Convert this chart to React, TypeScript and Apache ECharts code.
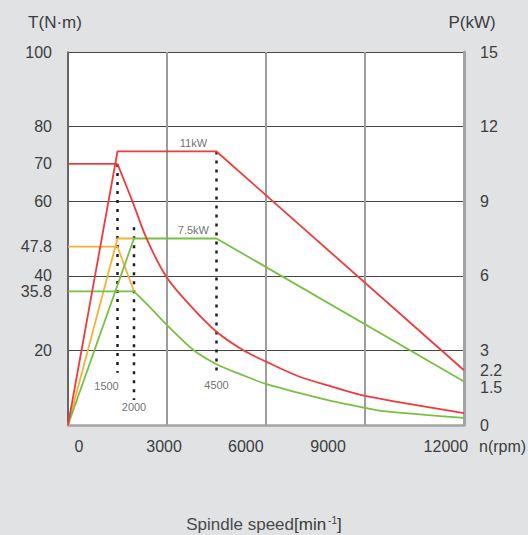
import React, { useEffect, useRef } from "react";
import * as echarts from "echarts";

// ---- data ----
const redTorque = [
  [0, 70], [1500, 70], [1950, 60], [2400, 49.6], [3000, 39.5], [3750, 31.6],
  [4500, 25], [5300, 20.1], [6000, 17], [7000, 13], [8000, 10.3], [9000, 7.8], [12000, 3.2],
];
const greenTorque = [
  [0, 35.8], [2000, 35.8], [2500, 31.4], [3000, 26.8], [3800, 20.1], [4500, 16.3],
  [5200, 13.7], [6000, 11], [7000, 8.6], [8000, 6.4], [9000, 4.6], [9500, 3.8], [12000, 1.9],
];
const orangeTorque = [[0, 47.8], [1500, 47.8], [2000, 35.8]];
const redPower = [[0, 0], [1500, 11], [4500, 11], [12000, 2.2]];
const greenPower = [[0, 0], [2000, 7.5], [4500, 7.5], [12000, 1.75]];
const orangePower = [[0, 0], [1500, 7.5], [2000, 7.5]];

const markerRpm = [1500, 2000, 4500];
const markerTop = [70, 53, 73.3];
const markerBottom = [14, 6.7, 13.4];
const markerLabelT = [10.5, 4.8, 10.7];
const markerLabelShift = [-11, 0, 0];

const powerNotes = [
  { name: "11kW", value: [3800, 11] },
  { name: "7.5kW", value: [3800, 7.5] },
];

const leftTicks = [20, 35.8, 40, 47.8, 60, 70, 80, 100];
const rightTicks = [0, 1.5, 2.2, 3, 6, 9, 12, 15];
const xTickLabels = ["0", "3000", "6000", "9000", "12000"];
const xTickLabelAt = [333, 2910, 5390, 7880, 11450];

const RED = "#ef3b3b";
const GREEN = "#78c044";
const ORANGE = "#f6b13a";
const TXT = "#3d3d3d";
const FONT = "Liberation Sans, Arial, sans-serif";

export default function App() {
  const ref = useRef<HTMLDivElement>(null);
  useEffect(() => {
    document.body.style.margin = "0";
    document.body.style.background = "#e1e2e4";
    const chart = echarts.init(ref.current!, null, { renderer: "svg" });

    const lineSeries = (data: number[][], color: string, yAxisIndex: number, z = 3, smooth: any = false) => ({
      type: "line",
      data,
      yAxisIndex,
      symbol: "none",
      z,
      smooth,
      lineStyle: { color, width: 1.8 },
      silent: true,
    });

    const markerSeries = markerRpm.map((rpm, i) => ({
      type: "line",
      data: [[rpm, markerTop[i]], [rpm, markerBottom[i]]],
      yAxisIndex: 0,
      symbol: "none",
      z: 2,
      lineStyle: { color: "#1e1e1e", width: 2.5, type: [3, 6] },
      silent: true,
    }));

    chart.setOption({
      animation: false,
      backgroundColor: "#e1e2e4",
      textStyle: { fontFamily: FONT },
      title: {
        text: "Spindle speed{m|[min}{s|-1}{m|]}",
        left: "center",
        top: 510,
        textStyle: {
          fontFamily: FONT,
          fontSize: 17,
          fontWeight: "normal",
          color: "#4a4a4a",
          rich: {
            m: { fontSize: 17, fontWeight: 500, color: "#3a3a3a", fontFamily: FONT },
            s: { fontSize: 10, color: "#3a3a3a", padding: [0, 0, 8, 2], fontFamily: FONT },
          },
        },
      },
      grid: {
        left: 68,
        right: 64,
        top: 52,
        bottom: 110,
        show: true,
        backgroundColor: "#ffffff",
        borderWidth: 0,
        outerBoundsMode: "none",
      },
      xAxis: {
        type: "value",
        min: 0,
        max: 12000,
        interval: 3000,
        name: "n(rpm)",
        nameLocation: "end",
        nameGap: 15,
        nameTextStyle: {
          color: TXT,
          fontSize: 16,
          fontFamily: FONT,
          verticalAlign: "top",
          align: "left",
          padding: [13, 0, 0, 0],
        },
        axisLine: { show: true, lineStyle: { color: "#a4a4a4", width: 2.5 } },
        axisTick: { show: false },
        splitLine: { show: true, lineStyle: { color: "#9d9d9d", width: 2 } },
        axisLabel: {
          customValues: xTickLabelAt,
          color: TXT,
          fontSize: 16,
          margin: 13,
          fontFamily: FONT,
          formatter: (v: number) => {
            const i = xTickLabelAt.indexOf(v);
            return i >= 0 ? xTickLabels[i] : "";
          },
        },
      },
      yAxis: [
        {
          type: "value",
          min: 0,
          max: 100,
          interval: 20,
          position: "left",
          name: "T(N·m)",
          nameLocation: "end",
          nameGap: 21,
          nameTextStyle: {
            color: TXT,
            fontSize: 17,
            fontFamily: FONT,
            align: "center",
            padding: [0, 26, 0, 0],
          },
          axisLine: { show: true, lineStyle: { color: "#555555", width: 1.5 } },
          axisTick: { show: false },
          splitLine: { show: true, lineStyle: { color: "#454545", width: 1 } },
          axisLabel: {
            customValues: leftTicks,
            color: TXT,
            fontSize: 16,
            margin: 16,
            fontFamily: FONT,
            formatter: (v: number) => String(v),
          },
        },
        {
          type: "value",
          min: 0,
          max: 15,
          interval: 3,
          position: "right",
          name: "P(kW)",
          nameLocation: "end",
          nameGap: 21,
          nameTextStyle: {
            color: TXT,
            fontSize: 17,
            fontFamily: FONT,
            align: "center",
            padding: [0, 0, 0, 16],
          },
          axisLine: { show: true, lineStyle: { color: "#a4a4a4", width: 3 } },
          axisTick: { show: false },
          splitLine: { show: false },
          axisLabel: {
            customValues: rightTicks,
            color: TXT,
            fontSize: 16,
            margin: 16,
            fontFamily: FONT,
            formatter: (v: number) => String(v),
          },
        },
      ],
      series: [
        ...markerSeries,
        lineSeries(orangeTorque, ORANGE, 0, 3),
        lineSeries(orangePower, ORANGE, 1, 3),
        lineSeries(greenTorque.slice(0, 2), GREEN, 0, 4),
        lineSeries(greenTorque.slice(1), GREEN, 0, 4, 0.3),
        lineSeries(greenPower, GREEN, 1, 4),
        lineSeries(redTorque.slice(0, 2), RED, 0, 5),
        lineSeries(redTorque.slice(1), RED, 0, 5, 0.3),
        lineSeries(redPower, RED, 1, 5),
        {
          type: "scatter",
          yAxisIndex: 0,
          symbolSize: 0,
          silent: true,
          z: 6,
          data: markerRpm.map((rpm, i) => ({
            name: String(rpm),
            value: [rpm, markerLabelT[i]],
            label: { offset: [markerLabelShift[i], 0] },
          })),
          label: {
            show: true,
            position: "inside",
            formatter: "{b}",
            color: "#4a4a4a",
            fontSize: 11,
            fontFamily: FONT,
          },
        },
        {
          type: "scatter",
          yAxisIndex: 1,
          symbolSize: 0,
          silent: true,
          z: 6,
          data: powerNotes,
          label: {
            show: true,
            position: "top",
            distance: 3,
            formatter: "{b}",
            color: "#4a4a4a",
            fontSize: 11,
            fontFamily: FONT,
          },
        },
      ],
    });
    return () => chart.dispose();
  }, []);
  return <div ref={ref} style={{ width: 528, height: 535 }} />;
}
